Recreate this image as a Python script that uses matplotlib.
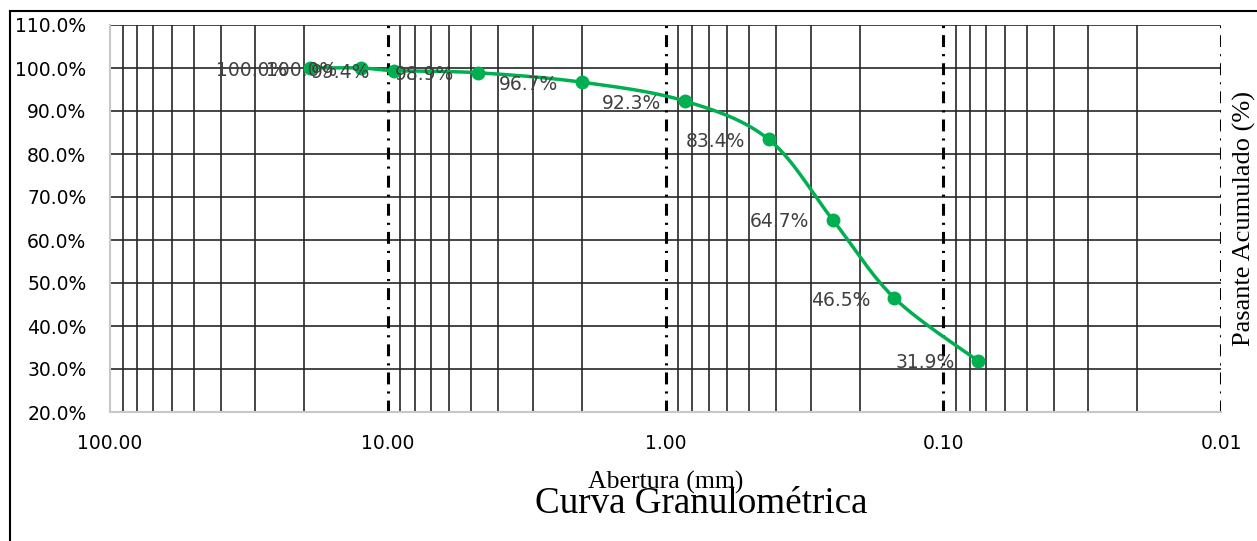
import numpy as np
import matplotlib
matplotlib.use('Agg')
import matplotlib.pyplot as plt
from matplotlib.ticker import FixedLocator, FuncFormatter, NullFormatter

# sieve openings (mm) and cumulative passing (%)
abertura = [19.0, 12.5, 9.5, 4.75, 2.0, 0.85, 0.425, 0.25, 0.15, 0.075]
pasante = [100.0, 100.0, 99.4, 98.9, 96.7, 92.3, 83.4, 64.7, 46.5, 31.9]

x_ticks = [100, 10, 1, 0.1, 0.01]
y_ticks = [20, 30, 40, 50, 60, 70, 80, 90, 100, 110]

GREEN = '#00B050'
LABEL_FONT = ['DejaVu Sans']
SERIF = ['Liberation Serif', 'DejaVu Serif']


def smooth_curve(xs, ys, n=40):
    # bezier smoothing like excel's "smoothed line", done in log-x space
    u = np.log10(np.array(xs, dtype=float))
    v = np.array(ys, dtype=float)
    pts = np.column_stack([u, v])
    out = []
    for i in range(len(pts) - 1):
        p0 = pts[max(i - 1, 0)]
        p1 = pts[i]
        p2 = pts[i + 1]
        p3 = pts[min(i + 2, len(pts) - 1)]
        c1 = p1 + (p2 - p0) / 6.0
        c2 = p2 - (p3 - p1) / 6.0
        t = np.linspace(0, 1, n)[:, None]
        seg = ((1 - t) ** 3) * p1 + 3 * ((1 - t) ** 2) * t * c1 \
            + 3 * (1 - t) * t ** 2 * c2 + t ** 3 * p2
        out.append(seg)
    seg = np.vstack(out)
    return 10 ** seg[:, 0], seg[:, 1]


fig = plt.figure(figsize=(12.57, 5.41), dpi=100)
ax = fig.add_axes([110 / 1257, 1 - 412 / 541, (1221 - 110) / 1257, (412 - 25) / 541])

ax.set_xscale('log')
ax.set_xlim(100, 0.01)
ax.set_ylim(20, 110)

# minor vertical grid (2..9 of each decade)
minors = []
for dec in [10, 1, 0.1, 0.01]:
    for k in range(2, 10):
        minors.append(dec * k)
for m in minors:
    ax.axvline(m, color='#262626', lw=1.2, zorder=1)
# decade lines dash-dot
for d in [10, 1, 0.1, 0.01]:
    ax.axvline(d, color='black', lw=2.2, linestyle=(0, (3.9, 2.3, 0.7, 2.3)), zorder=1.5)
# horizontal grid
for yv in y_ticks[1:]:
    ax.axhline(yv, color='#262626', lw=1.2, zorder=1)

ax.xaxis.set_major_locator(FixedLocator(x_ticks))
ax.xaxis.set_minor_formatter(NullFormatter())
ax.xaxis.set_minor_locator(FixedLocator([]))
ax.xaxis.set_major_formatter(FuncFormatter(lambda v, p: '%.2f' % v))
ax.yaxis.set_major_locator(FixedLocator(y_ticks))
ax.yaxis.set_major_formatter(FuncFormatter(lambda v, p: '%.1f%%' % v))
ax.tick_params(length=0, labelsize=13.5, colors='black')
ax.tick_params(axis='y', pad=17)
ax.tick_params(axis='x', pad=16)
for lab in ax.get_xticklabels() + ax.get_yticklabels():
    lab.set_family(LABEL_FONT)

for side in ['top', 'right']:
    ax.spines[side].set_visible(False)
for side in ['left', 'bottom']:
    ax.spines[side].set_color('#c8c8c8')
    ax.spines[side].set_linewidth(1.5)

sx, sy = smooth_curve(abertura, pasante)
ax.plot(sx, sy, color=GREEN, lw=2.5, zorder=3, solid_capstyle='round')
ax.plot(abertura, pasante, 'o', color=GREEN, ms=9, zorder=4)

for xv, yv in zip(abertura, pasante):
    ax.annotate('%.1f%%' % yv, (xv, yv), xytext=(-17, -1.5), textcoords='offset points',
                ha='right', va='center', fontsize=13.5, color='#404040',
                family=LABEL_FONT, zorder=5)

fig.text(1244 / 1257, 1 - 218 / 541, 'Pasante Acumulado (%)', rotation=90,
         ha='center', va='center', fontsize=19, family=SERIF)
fig.text(666 / 1257, 1 - 482 / 541, 'Abertura (mm)', ha='center', va='center',
         fontsize=18.5, family=SERIF)
fig.text(701 / 1257, 1 - 504 / 541, 'Curva Granulométrica', ha='center', va='center',
         fontsize=26.7, family=SERIF)

# outer frame of the chart
fig.add_artist(plt.Line2D([10 / 1257, 10 / 1257], [0, 1 - 11 / 541], color='black', lw=1.5))
fig.add_artist(plt.Line2D([10 / 1257, 1], [1 - 11 / 541, 1 - 11 / 541], color='black', lw=1.5))

fig.savefig('out.png', dpi=100)
